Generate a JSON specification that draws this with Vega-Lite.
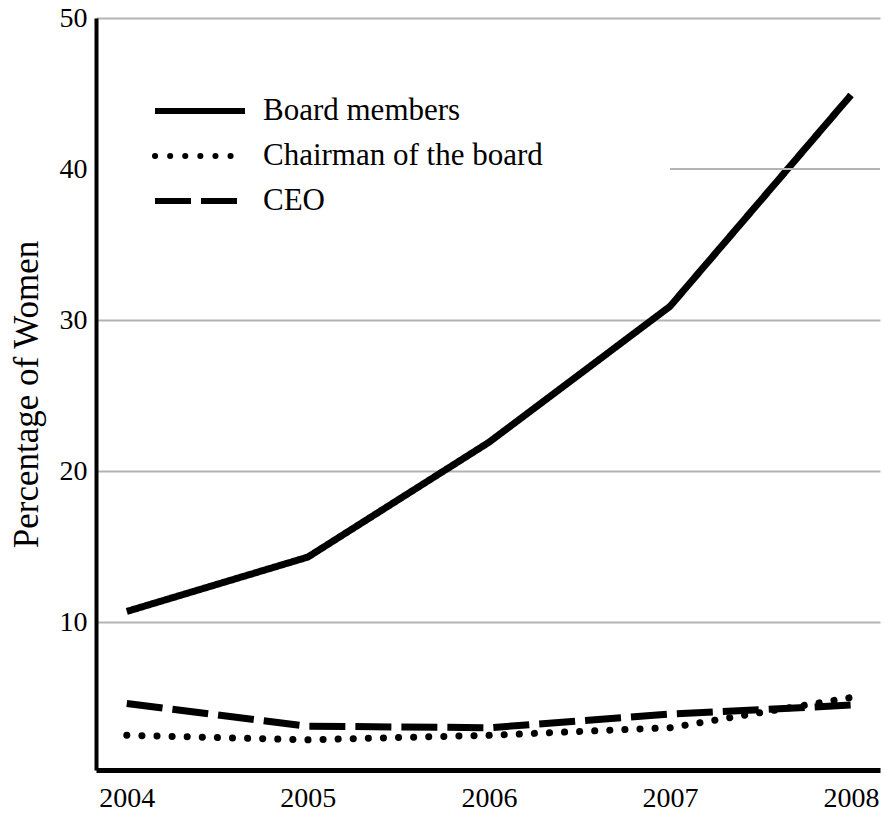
{
  "$schema": "https://vega.github.io/schema/vega-lite/v6.json",
  "width": 784,
  "height": 752,
  "autosize": {"type": "none"},
  "padding": {"left": 96, "top": 18, "right": 4, "bottom": 48},
  "config": {"font": "Liberation Serif", "view": {"stroke": null}},
  "datasets": {
    "series": [
      {"series": "Board members", "year": 2004, "value": 10.7},
      {"series": "Board members", "year": 2005, "value": 14.3},
      {"series": "Board members", "year": 2006, "value": 21.9},
      {"series": "Board members", "year": 2007, "value": 30.9},
      {"series": "Board members", "year": 2008, "value": 44.9},
      {"series": "CEO", "year": 2004, "value": 4.6},
      {"series": "CEO", "year": 2005, "value": 3.1},
      {"series": "CEO", "year": 2006, "value": 3.0},
      {"series": "CEO", "year": 2007, "value": 3.9},
      {"series": "CEO", "year": 2008, "value": 4.5},
      {"series": "Chairman of the board", "year": 2004, "value": 2.5},
      {"series": "Chairman of the board", "year": 2005, "value": 2.2},
      {"series": "Chairman of the board", "year": 2006, "value": 2.5},
      {"series": "Chairman of the board", "year": 2007, "value": 3.0},
      {"series": "Chairman of the board", "year": 2008, "value": 5.0}
    ],
    "grid40": [{"y": 40, "x": 2007.0, "x2": 2008.16}]
  },
  "layer": [
    {
      "data": {"name": "series"},
      "transform": [{"filter": "datum.series !== 'Chairman of the board'"}],
      "mark": {"type": "line", "color": "black", "strokeWidth": 7, "strokeCap": "butt", "strokeJoin": "round"},
      "encoding": {
        "x": {
          "field": "year", "type": "quantitative",
          "scale": {"domain": [2003.83, 2008.16], "nice": false, "zero": false},
          "axis": {
            "values": [2004, 2005, 2006, 2007, 2008], "format": "d", "ticks": false, "grid": false,
            "domainColor": "black", "domainWidth": 5, "labelFontSize": 28, "labelColor": "black",
            "labelPadding": 14, "title": null, "labelFlush": false
          }
        },
        "y": {
          "field": "value", "type": "quantitative",
          "scale": {"domain": [0.2, 50], "nice": false, "zero": false},
          "axis": {
            "values": [10, 20, 30, 40, 50], "ticks": false, "grid": true,
            "gridColor": {"condition": {"test": "datum.value === 40", "value": "transparent"}, "value": "#b3b3b3"},
            "gridWidth": 2, "domainColor": "black", "domainWidth": 4,
            "labelFontSize": 28, "labelColor": "black", "labelPadding": 9,
            "title": "Percentage of Women", "titleFontSize": 35, "titleFontWeight": "normal",
            "titleColor": "black", "titlePadding": 15, "labelFlush": false
          }
        },
        "strokeDash": {
          "field": "series", "type": "nominal",
          "scale": {
            "domain": ["Board members", "Chairman of the board", "CEO"],
            "range": [[1, 0], [0.1, 15], [36, 10]]
          },
          "legend": {
            "orient": "none", "legendX": 76, "legendY": 65, "title": null,
            "symbolType": "M-1.8,0H1.8", "symbolSize": 2500, "symbolStrokeWidth": 6,
            "symbolStrokeColor": "black", "symbolFillColor": "transparent",
            "labelFontSize": 31, "labelColor": "black",
            "labelLimit": 0, "rowPadding": 2, "labelOffset": 35,
            "encode": {"symbols": {"update": {
              "strokeCap": {"signal": "datum.value === 'Chairman of the board' ? 'round' : 'butt'"}
            }}}
          }
        }
      }
    },
    {
      "data": {"name": "series"},
      "transform": [{"filter": "datum.series === 'Chairman of the board'"}],
      "mark": {"type": "line", "color": "black", "strokeWidth": 7, "strokeCap": "round"},
      "encoding": {
        "x": {"field": "year", "type": "quantitative"},
        "y": {"field": "value", "type": "quantitative"},
        "strokeDash": {"field": "series", "type": "nominal"}
      }
    },
    {
      "data": {"name": "grid40"},
      "mark": {"type": "rule", "color": "#b3b3b3", "strokeWidth": 2},
      "encoding": {
        "y": {"field": "y", "type": "quantitative"},
        "x": {"field": "x", "type": "quantitative"},
        "x2": {"field": "x2"}
      }
    }
  ]
}
